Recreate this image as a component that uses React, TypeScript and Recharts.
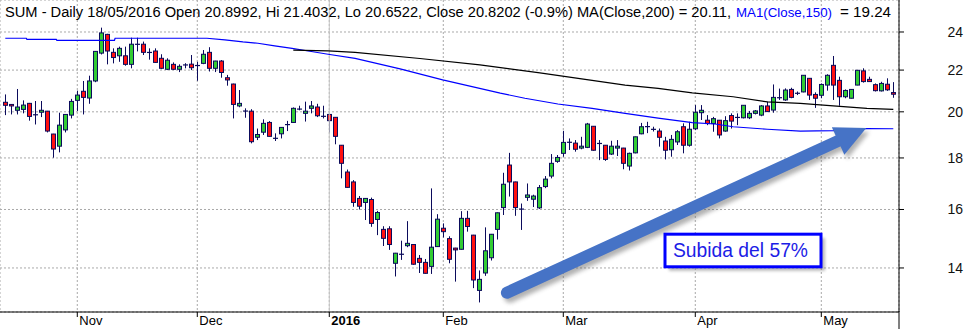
import React from "react";
import {
  ComposedChart,
  Bar,
  Line,
  XAxis,
  YAxis,
  CartesianGrid,
  ReferenceLine,
  ReferenceDot,
} from "recharts";

// daily candles, oldest first (Oct 2015 .. 18/05/2016)
const opens = [
  20.44, 20.34, 20.07, 20.11, 20.39, 19.87, 19.98, 20.03, 19.01, 18.49,
  19.19, 19.85, 20.53, 20.96, 20.64, 21.46, 22.87, 23.87, 22.91, 22.73,
  22.73, 22.29, 23.34, 23.34, 22.91, 22.98, 22.6, 22.04, 22.29, 22.04,
  22.25, 22.3, 22.24, 22.34, 22.91, 22.09, 22.46, 21.62, 21.31, 20.27,
  20.04, 20.03, 18.87, 19.09, 19.52, 18.82, 19.02, 19.4, 19.52, 20.12,
  19.93, 20.16, 20.22, 19.8, 19.88, 19.75, 18.53, 17.43, 17.04, 16.41,
  16.26, 16.37, 15.64, 15.29, 15.31, 14.15, 14.44, 14.73, 14.77, 14.31,
  14.18, 14.05, 14.7, 15.33, 14.97, 14.65, 14.61, 15.68, 15.09, 13.3,
  13.84, 14.33, 15.29, 16.07, 17.71, 17.04, 16.01, 16.45, 16.38, 16.06,
  16.86, 17.27, 17.86, 18.19, 18.65, 18.62, 18.41, 18.44, 19.35, 18.61,
  18.53, 18.16, 18.41, 18.41, 17.67, 18.21, 19.02, 19.33, 19.22, 19.14,
  18.71, 18.34, 18.67, 19.33, 18.53, 19.24, 19.96, 19.62, 19.47, 19.62,
  19.14, 19.83, 19.75, 19.73, 19.73, 19.93, 19.85, 20.27, 20.08, 20.66,
  20.55, 21.05, 20.86, 20.93, 21.59, 20.81, 20.77, 21.26, 22.24, 21.49,
  20.7, 20.63, 21.26, 21.96, 21.54, 21.28, 20.98, 21.3, 20.8992,
];
const highs = [
  20.81, 20.36, 21.07, 20.53, 20.41, 20.5, 20.5, 20.04, 19.02, 19.96,
  19.89, 20.6, 20.99, 21.46, 21.72, 22.98, 24.24, 23.9, 23.12, 23.21,
  23.21, 23.69, 23.69, 23.48, 23.12, 23.12, 22.81, 22.6, 22.39, 22.29,
  22.35, 22.77, 22.42, 23.03, 23.18, 22.47, 22.51, 21.76, 21.33, 21.02,
  20.16, 20.12, 19.25, 19.66, 19.58, 19.04, 19.31, 19.59, 20.2, 20.28,
  20.47, 20.5, 20.37, 20.28, 19.89, 19.76, 18.54, 17.53, 17.11, 16.5,
  16.42, 16.44, 15.95, 15.4, 15.4, 14.49, 14.9, 15.58, 14.78, 14.42,
  14.29, 16.79, 15.83, 15.5, 15.05, 14.66, 15.94, 15.95, 15.1, 13.92,
  15.36, 15.13, 15.89, 17.4, 18.21, 17.05, 16.22, 16.98, 16.55, 16.92,
  17.27, 18.16, 18.12, 19.15, 18.82, 18.75, 18.89, 19.5, 19.36, 18.75,
  18.54, 18.72, 18.75, 18.42, 18.22, 18.9, 19.5, 19.55, 19.33, 19.25,
  18.89, 18.97, 19.18, 19.48, 19.55, 20.31, 20.31, 19.85, 19.77, 19.63,
  19.8, 19.93, 19.93, 20.31, 20.04, 20.08, 20.31, 20.47, 21.29, 21.09,
  21.1, 21.13, 20.95, 21.75, 21.6, 20.91, 21.34, 21.79, 22.72, 21.67,
  21.05, 21.06, 22.0, 22.09, 21.67, 21.34, 21.42, 21.59, 21.4032,
];
const lows = [
  19.85, 19.88, 19.88, 19.93, 19.6, 19.43, 19.76, 19.08, 18.01, 18.23,
  19.08, 19.7, 20.04, 19.88, 20.37, 21.4, 22.8, 22.29, 22.34, 22.42,
  22.22, 22.09, 22.96, 22.77, 22.53, 22.37, 22.05, 22.0, 22.0, 21.9,
  22.09, 22.0, 21.47, 22.3, 21.93, 21.9, 21.62, 21.23, 19.7, 20.21,
  19.73, 18.61, 18.75, 18.97, 18.9, 18.71, 18.82, 19.14, 19.51, 20.07,
  19.56, 19.93, 19.76, 19.7, 19.08, 18.57, 17.18, 16.82, 16.1, 16.0,
  15.62, 15.38, 15.09, 14.72, 14.59, 13.73, 14.26, 14.68, 14.1, 13.84,
  13.82, 13.81, 14.69, 15.01, 14.15, 13.57, 14.6, 15.21, 13.37, 12.94,
  13.75, 14.24, 14.94, 15.8, 16.48, 15.77, 15.27, 16.32, 16.09, 16.02,
  16.8, 17.18, 17.8, 18.05, 18.33, 18.26, 18.36, 18.41, 18.3, 17.91,
  17.88, 18.12, 18.08, 17.54, 17.49, 18.19, 19.0, 19.05, 19.12, 18.47,
  17.94, 18.05, 18.54, 18.19, 18.47, 19.18, 19.63, 19.4, 19.11, 18.82,
  19.11, 19.25, 19.4, 19.7, 19.67, 19.88, 19.8, 20.0, 19.96, 20.55,
  20.51, 20.63, 20.78, 20.91, 20.55, 20.18, 20.63, 20.99, 20.55, 20.28,
  20.63, 20.62, 21.25, 21.38, 21.42, 20.95, 20.95, 20.98, 20.6522,
];
const closes = [
  20.3, 20.27, 20.22, 20.31, 19.79, 19.86, 20.07, 19.14, 18.37, 19.4,
  19.88, 20.48, 20.78, 20.67, 21.46, 22.96, 23.95, 22.98, 22.64, 23.12,
  22.29, 23.34, 23.33, 22.91, 22.9, 22.39, 22.09, 22.5, 22.04, 22.19,
  22.27, 22.12, 22.22, 22.81, 22.09, 22.46, 21.88, 21.51, 20.34, 20.39,
  20.03, 18.68, 18.99, 19.48, 18.91, 18.83, 19.3, 19.45, 20.16, 20.13,
  20.03, 20.27, 19.82, 19.79, 19.6, 18.91, 17.78, 16.83, 16.26, 16.12,
  16.41, 15.5, 15.89, 14.98, 14.77, 14.48, 14.45, 14.81, 14.12, 14.18,
  13.83, 14.68, 15.65, 15.21, 14.28, 14.59, 15.68, 15.39, 13.62, 13.64,
  14.56, 15.12, 15.88, 16.95, 17.04, 16.07, 16.02, 16.54, 16.5, 16.82,
  17.15, 17.78, 18.02, 18.65, 18.66, 18.36, 18.49, 19.45, 18.32, 18.6,
  17.94, 18.49, 18.49, 17.78, 18.19, 18.89, 19.33, 19.34, 19.21, 18.87,
  18.32, 18.78, 19.11, 18.53, 19.22, 19.98, 20.07, 19.47, 19.69, 18.97,
  19.6, 19.58, 19.74, 20.3, 19.93, 20.04, 20.27, 20.01, 20.67, 20.65,
  21.02, 20.67, 20.87, 21.74, 20.78, 20.63, 21.29, 21.74, 21.26, 20.7,
  21.0, 21.05, 21.99, 21.43, 21.43, 20.99, 21.34, 21.03, 20.8202,
];

// bar number where each month starts
const monthTicks = [13, 33, 55, 74, 94, 116, 137];
const monthLabels = ["Nov", "Dec", "2016", "Feb", "Mar", "Apr", "May"];
const priceTicks = [14, 16, 18, 20, 22, 24];

// moving averages (bar number, value)
const ma200Idx = [49, 54.8, 59.3, 70.1, 80.1, 90.1, 98.8, 104.3, 109.8, 115.5, 122.3, 128, 133.5, 139, 144.6, 149];
const ma200Val = [23.03, 22.99, 22.91, 22.59, 22.26, 21.86, 21.49, 21.26, 21.1, 20.88, 20.7, 20.46, 20.39, 20.27, 20.16, 20.11];
const ma150Idx = [1, 4.5, 4.6, 9.5, 9.6, 19.2, 19.3, 34.6, 37.6, 40.6, 43.1, 45.9, 48.8, 51.5, 54.8, 59.3, 66.8, 73.9, 83.5, 87.6, 93.1, 98.8, 104.3, 109.8, 115.5, 119.3, 122.3, 128, 133.5, 139, 144.6, 149];
const ma150Val = [23.66, 23.66, 23.6, 23.6, 23.55, 23.55, 23.66, 23.66, 23.57, 23.46, 23.39, 23.25, 23.12, 22.98, 22.81, 22.6, 22.06, 21.51, 20.87, 20.63, 20.36, 20.16, 19.93, 19.71, 19.51, 19.45, 19.33, 19.22, 19.14, 19.16, 19.25, 19.24];

// annotation anchors (bar number, price)
const arrowFrom = { i: 84.6, price: 13.23 };
const arrowTo = { i: 139.8, price: 18.71 };
const noteAt = { i: 123.95, price: 14.57 };
const noteText = "Subida del 57%";

const FONT = '"Liberation Sans", Arial, sans-serif';

const candles = opens.map((o, k) => ({
  i: k + 1,
  o,
  h: highs[k],
  l: lows[k],
  c: closes[k],
  range: [lows[k], highs[k]],
}));
const ma200 = ma200Idx.map((i, k) => ({ i, v: ma200Val[k] }));
const ma150 = ma150Idx.map((i, k) => ({ i, v: ma150Val[k] }));

const Candle = (props: any) => {
  const { x, y, width, height, payload } = props;
  if (!payload) return null;
  const { o, h, l, c } = payload;
  const yTop = Math.min(y, y + height);
  const yBot = Math.max(y, y + height);
  const lh = Math.log(h);
  const ll = Math.log(l);
  const py = (v: number) =>
    lh === ll ? yTop : yTop + ((yBot - yTop) * (lh - Math.log(v))) / (lh - ll);
  const cx = Math.floor(x + width / 2) + 0.5;
  const bTop = py(Math.max(o, c));
  const bBot = py(Math.min(o, c));
  const up = c >= o;
  const edge = "#0b0b5c";
  return (
    <g>
      <line x1={cx} x2={cx} y1={yTop} y2={yBot} stroke={edge} strokeWidth={1} />
      {bBot - bTop < 1.5 ? (
        <line x1={cx - 2.5} x2={cx + 2.5} y1={(bTop + bBot) / 2} y2={(bTop + bBot) / 2} stroke={edge} strokeWidth={1.2} />
      ) : (
        <rect
          x={cx - 2}
          y={bTop}
          width={4}
          height={bBot - bTop}
          fill={up ? "#33cc33" : "#ff1010"}
          stroke={edge}
          strokeWidth={1}
        />
      )}
    </g>
  );
};

const MonthTick = (props: any) => {
  const { x, y, payload } = props;
  const k = monthTicks.indexOf(payload.value);
  const label = monthLabels[k];
  return (
    <text
      x={x + 2}
      y={y + 6}
      fontSize={13}
      fontFamily={FONT}
      fontWeight={label === "2016" ? "bold" : "normal"}
      fill="#000"
    >
      {label}
    </text>
  );
};

const PriceTick = (props: any) => {
  const { x, y, payload } = props;
  return (
    <text x={x + 57} y={y + 5} fontSize={14} fontFamily={FONT} textAnchor="end" fill="#111">
      {payload.value}
    </text>
  );
};

const arrowParts = (x1: number, y1: number, x2: number, y2: number, color: string) => {
  const dx = x2 - x1;
  const dy = y2 - y1;
  const len = Math.hypot(dx, dy) || 1;
  const ux = dx / len;
  const uy = dy / len;
  const nx = -uy;
  const ny = ux;
  const hw = 15;
  const hl = 31;
  const pts = [
    [x2 + nx * hw, y2 + ny * hw],
    [x2 + ux * hl, y2 + uy * hl],
    [x2 - nx * hw, y2 - ny * hw],
  ]
    .map((p) => p.join(","))
    .join(" ");
  return (
    <g>
      <line x1={x1} y1={y1} x2={x2 + ux * 2} y2={y2 + uy * 2} stroke={color} strokeWidth={12} strokeLinecap="round" />
      <polygon points={pts} fill={color} />
    </g>
  );
};

const Arrow = (props: any) => {
  const { x1, y1, x2, y2 } = props;
  if ([x1, y1, x2, y2].some((v) => typeof v !== "number" || isNaN(v))) return null;
  return (
    <g>
      <defs>
        <filter id="arrowShadow" x="-10%" y="-10%" width="120%" height="120%">
          <feGaussianBlur stdDeviation="2" />
        </filter>
      </defs>
      <g transform="translate(3,4)" filter="url(#arrowShadow)" opacity={0.45}>
        {arrowParts(x1, y1, x2, y2, "#555")}
      </g>
      {arrowParts(x1, y1, x2, y2, "#4673c6")}
    </g>
  );
};

const Note = (props: any) => {
  const { cx, cy } = props;
  if (typeof cx !== "number" || typeof cy !== "number") return null;
  return (
    <g>
      <defs>
        <filter id="noteShadow" x="-10%" y="-20%" width="120%" height="140%">
          <feGaussianBlur stdDeviation="1.5" />
        </filter>
      </defs>
      <rect x={cx - 78 + 4} y={cy - 16.3 + 4} width={156} height={32.6} fill="#777" opacity={0.5} filter="url(#noteShadow)" />
      <rect x={cx - 78} y={cy - 16.3} width={156} height={32.6} fill="#fff" stroke="#0000ff" strokeWidth={3} />
      <text
        x={cx - 70}
        y={cy + 6.3}
        fontSize={20}
        fontFamily={FONT}
        fill="#1c1ce6"
        textLength={135}
        lengthAdjust="spacingAndGlyphs"
      >
        {noteText}
      </text>
    </g>
  );
};

export default function App() {
  return (
    <div style={{ position: "absolute", left: 0, top: 0, width: 968, height: 329, background: "#fff" }}>
      <ComposedChart width={968} height={329} data={candles} margin={{ top: 0, right: 0, bottom: 0, left: 0 }}>
        <CartesianGrid stroke="#a9a9a9" strokeDasharray="2 2" fill="none" />
        <ReferenceLine x={55} stroke="#c6c6c6" strokeWidth={1} />
        <XAxis
          dataKey="i"
          type="number"
          domain={[0.12, 149.95]}
          allowDataOverflow
          ticks={monthTicks}
          interval={0}
          height={17}
          tickSize={5}
          axisLine={{ stroke: "#000" }}
          tickLine={{ stroke: "#000" }}
          tick={<MonthTick />}
        />
        <YAxis
          orientation="right"
          scale="log"
          domain={[12.66, 25.82]}
          allowDataOverflow
          ticks={priceTicks}
          interval={0}
          width={69}
          tickSize={5}
          axisLine={{ stroke: "#000" }}
          tickLine={{ stroke: "#000" }}
          tick={<PriceTick />}
        />
        <Bar dataKey="range" barSize={5} shape={Candle} isAnimationActive={false} />
        <Line
          data={ma150}
          dataKey="v"
          type="linear"
          stroke="#0000ff"
          strokeWidth={1.2}
          dot={false}
          activeDot={false}
          isAnimationActive={false}
        />
        <Line
          data={ma200}
          dataKey="v"
          type="linear"
          stroke="#000"
          strokeWidth={1.2}
          dot={false}
          activeDot={false}
          isAnimationActive={false}
        />
        <ReferenceLine
          segment={[
            { x: arrowFrom.i, y: arrowFrom.price },
            { x: arrowTo.i, y: arrowTo.price },
          ]}
          ifOverflow="visible"
          shape={Arrow}
        />
        <ReferenceDot x={noteAt.i} y={noteAt.price} ifOverflow="visible" shape={Note} />
      </ComposedChart>
      <svg
        width={968}
        height={329}
        style={{ position: "absolute", left: 0, top: 0, pointerEvents: "none" }}
      >
        <line x1={899} x2={899} y1={311} y2={329} stroke="#000" strokeWidth={1} />
        <text x={5} y={17} fontSize={14} fontFamily={FONT} fill="#000" textLength={726} lengthAdjust="spacingAndGlyphs">
          SUM - Daily 18/05/2016 Open 20.8992, Hi 21.4032, Lo 20.6522, Close 20.8202 (-0.9%) MA(Close,200) = 20.11,
        </text>
        <text x={736} y={17} fontSize={13.5} fontFamily={FONT} fill="#0000ff" textLength={96} lengthAdjust="spacingAndGlyphs">
          MA1(Close,150)
        </text>
        <text x={840} y={17} fontSize={14} fontFamily={FONT} fill="#000" textLength={51} lengthAdjust="spacingAndGlyphs">
          = 19.24
        </text>
      </svg>
    </div>
  );
}
